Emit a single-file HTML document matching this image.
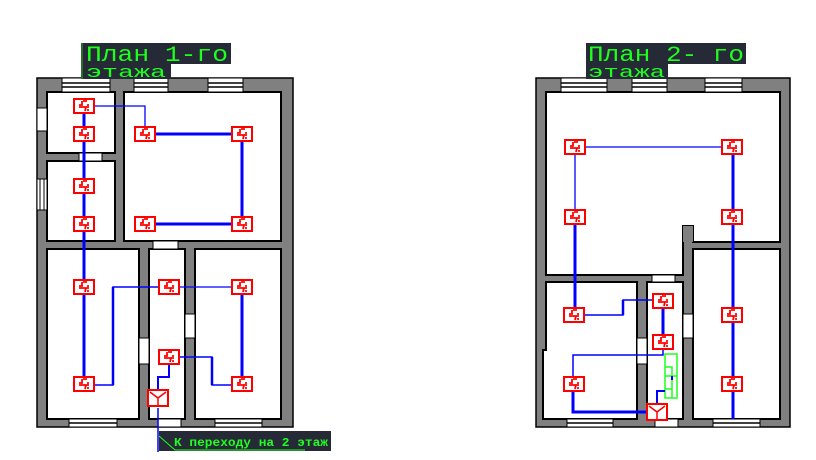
<!DOCTYPE html>
<html><head><meta charset="utf-8"><style>
html,body{margin:0;padding:0;background:#fff;width:816px;height:460px;overflow:hidden}
svg{display:block}
text{font-family:"Liberation Mono","DejaVu Sans Mono",monospace;fill:#1fff1f}
</style></head><body>
<svg width="816" height="460" viewBox="0 0 816 460" xmlns="http://www.w3.org/2000/svg">
<defs>
<g id="s">
<rect x="-10" y="-7" width="20" height="14" fill="#fff" stroke="#f00" stroke-width="2"/>
<path d="M-2,-5 L-2,-1 L-5,-1 M-5,1 L5,1 M3,-1 L5,-1 M2,1 L1,5 M3,4 L5,4 M-1,-5 L3,-5" stroke="#f00" stroke-width="1.8" fill="none"/>
</g>
<g id="j">
<rect x="-10" y="-8" width="20" height="16" fill="#fff" stroke="#f00" stroke-width="2"/>
<path d="M-8,-6 L0,0 L8,-6 M0,0 L0,7" stroke="#f00" stroke-width="1.5" fill="none"/>
</g>
</defs>

<!-- ===== PLAN 1 ===== -->
<rect x="37" y="78" width="256" height="349" fill="#808080" stroke="#000" stroke-width="1.5"/>
<g fill="#fff" stroke="#000" stroke-width="2">
<rect x="47" y="92" width="68" height="61"/>
<rect x="47" y="161" width="68" height="80"/>
<rect x="124" y="92" width="157" height="149"/>
<rect x="47" y="249" width="92" height="170"/>
<rect x="149" y="249" width="36" height="170"/>
<rect x="195" y="249" width="86" height="170"/>
</g>
<g fill="#fff" stroke="#000" stroke-width="1">
<rect x="79" y="153" width="23" height="8"/>
<rect x="153" y="241" width="25" height="8"/>
<rect x="139" y="338" width="10" height="26"/>
<rect x="185" y="314" width="10" height="24"/>
<rect x="158" y="419" width="23" height="8"/>
<rect x="37" y="108" width="10" height="23"/>
<rect x="37" y="179" width="10" height="31"/>
</g>
<path d="M40,179 V210 M44,179 V210" stroke="#000" stroke-width="1"/>
<g fill="#fff" stroke="#000" stroke-width="1">
<rect x="62" y="78" width="48" height="14"/><rect x="134" y="78" width="34" height="14"/><rect x="208" y="78" width="35" height="14"/>
<rect x="69" y="419" width="48" height="8"/><rect x="215" y="419" width="47" height="8"/>
</g>
<path d="M62,83H110M62,87H110M134,83H168M134,87H168M208,83H243M208,87H243M69,423H117M215,423H262" stroke="#000" stroke-width="1.5"/>

<g stroke="#0000ff" fill="none">
<path d="M94,106H145V127" stroke-width="1.3"/>
<path d="M84,113V377" stroke-width="3"/>
<path d="M156,134H232M242,141V217M156,224H232" stroke-width="3"/>
<path d="M94,385H113V287H158" stroke-width="1.5"/>
<path d="M113,385V287" stroke-width="2.5"/>
<path d="M179,287H232" stroke-width="1.3"/>
<path d="M242,294V377" stroke-width="3"/>
<path d="M179,357H212V385H232" stroke-width="1.5"/>
<path d="M212,357V385" stroke-width="2.5"/>
<path d="M169,365V377H158V392" stroke-width="2"/>
<path d="M158,408V452" stroke-width="1.5"/>
</g>
<g>
<use href="#s" x="84" y="106"/><use href="#s" x="84" y="134"/><use href="#s" x="84" y="186"/><use href="#s" x="84" y="224"/>
<use href="#s" x="145" y="134"/><use href="#s" x="242" y="134"/><use href="#s" x="145" y="224"/><use href="#s" x="242" y="224"/>
<use href="#s" x="84" y="287"/><use href="#s" x="84" y="384"/><use href="#s" x="169" y="287"/><use href="#s" x="242" y="287"/>
<use href="#s" x="169" y="357"/><use href="#s" x="242" y="384"/>
<use href="#j" x="158" y="398"/>
</g>

<rect x="81" y="43" width="150" height="21" fill="#252a36"/>
<rect x="81" y="63" width="90" height="16" fill="#252a36"/>
<rect x="81" y="43" width="2" height="36" fill="#2a6a2a"/>
<text x="86" y="61" font-size="22" textLength="142" lengthAdjust="spacingAndGlyphs">План 1-го</text>
<text x="86" y="77" font-size="17" textLength="80" lengthAdjust="spacingAndGlyphs">этажа</text>

<rect x="159" y="431" width="172" height="20" fill="#252a36"/>
<path d="M159,436 L175,450 H305" stroke="#1fff1f" stroke-width="1" fill="none"/>
<text x="174" y="446" font-size="12" font-weight="bold" textLength="154" lengthAdjust="spacingAndGlyphs">К переходу на 2 этаж</text>

<!-- ===== PLAN 2 ===== -->
<rect x="536" y="78" width="254" height="349" fill="#808080" stroke="#000" stroke-width="1.5"/>
<g fill="#fff" stroke="#000" stroke-width="2">
<path d="M546,92H780V242H693V226H683V275H546Z"/>
<rect x="693" y="249" width="87" height="170"/>
<path d="M546,282H637V419H543V350H546Z"/>
<rect x="647" y="282" width="36" height="137"/>
</g>
<rect x="683" y="226" width="10" height="16" fill="#808080"/>
<g fill="#fff" stroke="#000" stroke-width="1">
<rect x="652" y="275" width="23" height="7"/>
<rect x="637" y="338" width="10" height="26"/>
<rect x="683" y="314" width="10" height="24"/>
<rect x="655" y="419" width="23" height="8"/>
<rect x="561" y="78" width="46" height="14"/><rect x="632" y="78" width="35" height="14"/><rect x="705" y="78" width="37" height="14"/>
<rect x="567" y="419" width="46" height="8"/><rect x="713" y="419" width="47" height="8"/>
</g>
<path d="M561,83H607M561,87H607M632,83H667M632,87H667M705,83H742M705,87H742M567,423H613M713,423H760" stroke="#000" stroke-width="1.5"/>

<g stroke="#1fff1f" stroke-width="1.5" fill="none">
<rect x="665" y="354" width="12" height="44"/>
<path d="M665,376H677M665,367H672V376M665,389H672V398M672,376V389"/>
</g>
<g stroke="#0000ff" fill="none">
<path d="M586,147H722" stroke-width="1.3"/>
<path d="M575,154V210" stroke-width="1.3"/>
<path d="M733,154V419" stroke-width="3"/>
<path d="M575,224V308" stroke-width="3"/>
<path d="M584,315H623V300H653" stroke-width="1.5"/>
<path d="M623,315V300" stroke-width="2.5"/>
<path d="M663,308V336" stroke-width="3"/>
<path d="M663,349V355H573V377" stroke-width="1.5"/>
<path d="M573,391V412H646" stroke-width="3"/>
<path d="M657,405V391H665" stroke-width="2"/>
<path d="M672,376V380" stroke-width="2"/>
</g>
<g>
<use href="#s" x="575" y="147"/><use href="#s" x="732" y="147"/><use href="#s" x="575" y="217"/><use href="#s" x="732" y="217"/>
<use href="#s" x="574" y="315"/><use href="#s" x="663" y="301"/><use href="#s" x="663" y="342"/><use href="#s" x="574" y="384"/>
<use href="#s" x="732" y="315"/><use href="#s" x="732" y="384"/>
<use href="#j" x="657" y="412"/>
</g>

<rect x="586" y="43" width="160" height="21" fill="#252a36"/>
<rect x="586" y="63" width="82" height="16" fill="#252a36"/>
<text x="588" y="61" font-size="22" textLength="156" lengthAdjust="spacingAndGlyphs">План 2- го</text>
<text x="588" y="77" font-size="17" textLength="77" lengthAdjust="spacingAndGlyphs">этажа</text>
</svg>
</body></html>
